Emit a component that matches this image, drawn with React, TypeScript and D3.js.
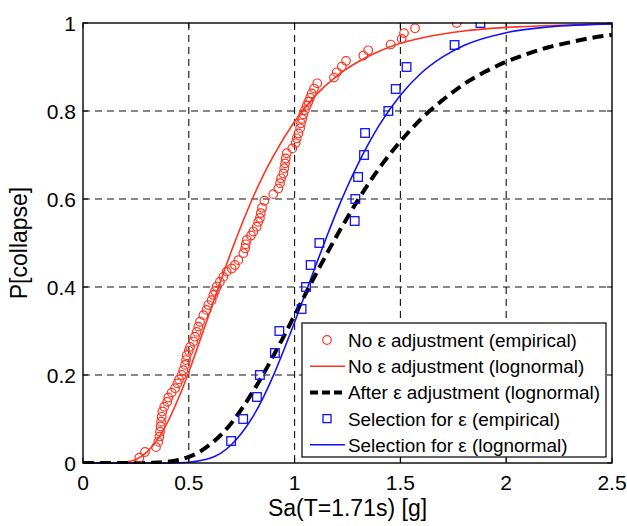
import React from 'react';
import * as d3 from 'd3';

const W = 627;
const H = 526;
const margin = { top: 23, right: 15, bottom: 63, left: 83 };

const xTicks = [0, 0.5, 1, 1.5, 2, 2.5];
const yTicks = [0, 0.2, 0.4, 0.6, 0.8, 1];

// [Sa, P]
const noEpsEmpirical = [
  [0.266, 0.012], [0.293, 0.025], [0.345, 0.036], [0.356, 0.048], [0.361, 0.060],
  [0.364, 0.071], [0.367, 0.083], [0.369, 0.094], [0.372, 0.105], [0.375, 0.117],
  [0.384, 0.128], [0.398, 0.139], [0.403, 0.149], [0.419, 0.160], [0.435, 0.170],
  [0.446, 0.181], [0.454, 0.190], [0.466, 0.200], [0.474, 0.211], [0.482, 0.223],
  [0.487, 0.234], [0.490, 0.245], [0.500, 0.255], [0.506, 0.264], [0.521, 0.276],
  [0.529, 0.287], [0.537, 0.298], [0.545, 0.310], [0.553, 0.321], [0.569, 0.336],
  [0.584, 0.348], [0.592, 0.359], [0.608, 0.370], [0.616, 0.382], [0.624, 0.391],
  [0.632, 0.401], [0.647, 0.412], [0.663, 0.423], [0.679, 0.435], [0.703, 0.442],
  [0.718, 0.450], [0.734, 0.461], [0.758, 0.477], [0.766, 0.488], [0.769, 0.497],
  [0.774, 0.507], [0.794, 0.517], [0.805, 0.526], [0.821, 0.537], [0.828, 0.548],
  [0.836, 0.557], [0.840, 0.568], [0.846, 0.580], [0.857, 0.596], [0.899, 0.611],
  [0.923, 0.624], [0.931, 0.636], [0.936, 0.647], [0.947, 0.658], [0.951, 0.670],
  [0.955, 0.681], [0.958, 0.692], [0.963, 0.704], [0.989, 0.715], [1.005, 0.727],
  [1.010, 0.738], [1.018, 0.749], [1.026, 0.761], [1.030, 0.772], [1.036, 0.782],
  [1.041, 0.792], [1.049, 0.802], [1.057, 0.812], [1.065, 0.821], [1.073, 0.830],
  [1.081, 0.840], [1.092, 0.851], [1.107, 0.863], [1.186, 0.876], [1.199, 0.888],
  [1.223, 0.901], [1.243, 0.914], [1.325, 0.926], [1.348, 0.938], [1.454, 0.951],
  [1.506, 0.964], [1.517, 0.977], [1.569, 0.988], [1.766, 1.0],
];

const noEpsLognormal = [
  [0, 0], [0.1, 0], [0.15, 0.0002], [0.2, 0.002], [0.25, 0.008], [0.3, 0.024],
  [0.35, 0.052], [0.4, 0.093], [0.45, 0.146], [0.5, 0.207], [0.55, 0.275],
  [0.6, 0.344], [0.65, 0.413], [0.7, 0.48], [0.75, 0.542], [0.8, 0.6],
  [0.85, 0.652], [0.9, 0.698], [1.0, 0.776], [1.1, 0.836], [1.2, 0.88],
  [1.3, 0.912], [1.4, 0.936], [1.5, 0.954], [1.6, 0.966], [1.8, 0.982],
  [2.0, 0.99], [2.25, 0.995], [2.5, 0.998],
];

const afterEpsLognormal = [
  [0, 0], [0.3, 0.0002], [0.35, 0.001], [0.4, 0.003], [0.45, 0.007], [0.5, 0.014],
  [0.55, 0.025], [0.6, 0.042], [0.65, 0.063], [0.7, 0.09], [0.75, 0.123],
  [0.8, 0.16], [0.85, 0.2], [0.9, 0.244], [0.95, 0.289], [1.0, 0.336],
  [1.1, 0.429], [1.2, 0.517], [1.3, 0.598], [1.4, 0.67], [1.5, 0.731],
  [1.6, 0.783], [1.7, 0.825], [1.8, 0.861], [1.9, 0.889], [2.0, 0.912],
  [2.1, 0.93], [2.2, 0.945], [2.3, 0.956], [2.4, 0.966], [2.5, 0.973],
];

const selEpsEmpirical = [
  [0.70, 0.05], [0.757, 0.10], [0.822, 0.15], [0.836, 0.20], [0.907, 0.25],
  [0.928, 0.30], [1.033, 0.35], [1.054, 0.40], [1.076, 0.45], [1.117, 0.50],
  [1.284, 0.55], [1.287, 0.60], [1.30, 0.65], [1.328, 0.70], [1.333, 0.75],
  [1.443, 0.80], [1.478, 0.85], [1.529, 0.90], [1.756, 0.95], [1.878, 1.0],
];

const selEpsLognormal = [
  [0, 0], [0.4, 0], [0.45, 0.0005], [0.5, 0.0016], [0.55, 0.005], [0.6, 0.011],
  [0.65, 0.022], [0.7, 0.041], [0.75, 0.068], [0.8, 0.103], [0.85, 0.147],
  [0.9, 0.199], [0.95, 0.258], [1.0, 0.32], [1.05, 0.384], [1.1, 0.449],
  [1.15, 0.512], [1.2, 0.573], [1.25, 0.629], [1.3, 0.68], [1.4, 0.768],
  [1.5, 0.836], [1.6, 0.887], [1.7, 0.923], [1.8, 0.949], [2.0, 0.978],
  [2.2, 0.991], [2.5, 0.998],
];

const legendLabels = [
  'No \u03b5 adjustment (empirical)',
  'No \u03b5 adjustment (lognormal)',
  'After \u03b5 adjustment (lognormal)',
  'Selection for \u03b5 (empirical)',
  'Selection for \u03b5 (lognormal)',
];

const RED = '#ff3320';
const BLUE = '#1010ff';
const FONT = '"Liberation Sans", Arial, Helvetica, sans-serif';

export default function App() {
  const x = d3.scaleLinear().domain([0, 2.5]).range([margin.left, W - margin.right]);
  const y = d3.scaleLinear().domain([0, 1]).range([H - margin.bottom, margin.top]);
  const line = d3.line<number[]>()
    .x(d => x(d[0]))
    .y(d => y(d[1]))
    .curve(d3.curveMonotoneX);

  const x0 = x(0), x1 = x(2.5), y0 = y(0), y1 = y(1);
  const tk = 5;

  // legend box
  const lg = { x: 302, y: 323, w: 304, h: 134 };
  const rowH = 26.2;

  return (
    <svg width={W} height={H} style={{ position: 'absolute', left: 0, top: 0 }} fontFamily={FONT}>
      <rect width={W} height={H} fill="#fff" />
      <defs>
        <clipPath id="plot">
          <rect x={x0} y={y1 - 1} width={x1 - x0} height={y0 - y1 + 2} />
        </clipPath>
      </defs>

      {/* grid */}
      {xTicks.slice(1, -1).map(t => (
        <line key={'gx' + t} x1={x(t)} x2={x(t)} y1={y1} y2={y0} stroke="#111" strokeWidth={1.1} strokeDasharray="7,5" />
      ))}
      {yTicks.slice(1, -1).map(t => (
        <line key={'gy' + t} x1={x0} x2={x1} y1={y(t)} y2={y(t)} stroke="#111" strokeWidth={1.1} strokeDasharray="7,5" />
      ))}

      {/* ticks inside, all sides */}
      {xTicks.map(t => (
        <g key={'tx' + t} stroke="#000" strokeWidth={1}>
          <line x1={x(t)} x2={x(t)} y1={y0} y2={y0 - tk} />
          <line x1={x(t)} x2={x(t)} y1={y1} y2={y1 + tk} />
        </g>
      ))}
      {yTicks.map(t => (
        <g key={'ty' + t} stroke="#000" strokeWidth={1}>
          <line x1={x0} x2={x0 + tk} y1={y(t)} y2={y(t)} />
          <line x1={x1} x2={x1 - tk} y1={y(t)} y2={y(t)} />
        </g>
      ))}

      <g clipPath="url(#plot)">
        <path d={line(noEpsLognormal as number[][]) || ''} fill="none" stroke={RED} strokeWidth={1.6} />
        <path d={line(selEpsLognormal as number[][]) || ''} fill="none" stroke={BLUE} strokeWidth={1.6} />
        <path d={line(afterEpsLognormal as number[][]) || ''} fill="none" stroke="#000" strokeWidth={4} strokeDasharray="11,6" />
        {noEpsEmpirical.map((d, i) => (
          <circle key={'r' + i} cx={x(d[0])} cy={y(d[1])} r={4.3} fill="none" stroke={RED} strokeWidth={1.2} />
        ))}
        {selEpsEmpirical.map((d, i) => (
          <rect key={'b' + i} x={x(d[0]) - 4.3} y={y(d[1]) - 4.3} width={8.6} height={8.6} fill="none" stroke={BLUE} strokeWidth={1.3} />
        ))}
      </g>

      {/* frame */}
      <rect x={x0} y={y1} width={x1 - x0} height={y0 - y1} fill="none" stroke="#000" strokeWidth={1.4} />

      {/* tick labels */}
      {xTicks.map(t => (
        <text key={'lx' + t} x={x(t)} y={y0 + 27} textAnchor="middle" fontSize={21}>{d3.format('~g')(t)}</text>
      ))}
      {yTicks.map(t => (
        <text key={'ly' + t} x={x0 - 7} y={y(t) + 7.5} textAnchor="end" fontSize={21}>{d3.format('~g')(t)}</text>
      ))}

      {/* axis titles */}
      <text x={(x0 + x1) / 2} y={y0 + 53} textAnchor="middle" fontSize={23}>Sa(T=1.71s) [g]</text>
      <text transform={`translate(27,${(y0 + y1) / 2}) rotate(-90)`} textAnchor="middle" fontSize={23}>P[collapse]</text>

      {/* legend */}
      <g>
        <rect x={lg.x} y={lg.y} width={lg.w} height={lg.h} fill="#fff" stroke="#000" strokeWidth={1.2} />
        {legendLabels.map((label, i) => {
          const cy = lg.y + 17 + i * rowH;
          return (
            <g key={'lg' + i}>
              {i === 0 && <circle cx={327} cy={cy} r={4.3} fill="none" stroke={RED} strokeWidth={1.2} />}
              {i === 1 && <line x1={310} x2={345} y1={cy} y2={cy} stroke={RED} strokeWidth={1.6} />}
              {i === 2 && <line x1={310} x2={345} y1={cy} y2={cy} stroke="#000" strokeWidth={4} strokeDasharray="8,4" />}
              {i === 3 && <rect x={323} y={cy - 4} width={8} height={8} fill="none" stroke={BLUE} strokeWidth={1.3} />}
              {i === 4 && <line x1={310} x2={345} y1={cy} y2={cy} stroke={BLUE} strokeWidth={1.6} />}
              <text x={348} y={cy + 7} fontSize={18.9}>{label}</text>
            </g>
          );
        })}
      </g>
    </svg>
  );
}
